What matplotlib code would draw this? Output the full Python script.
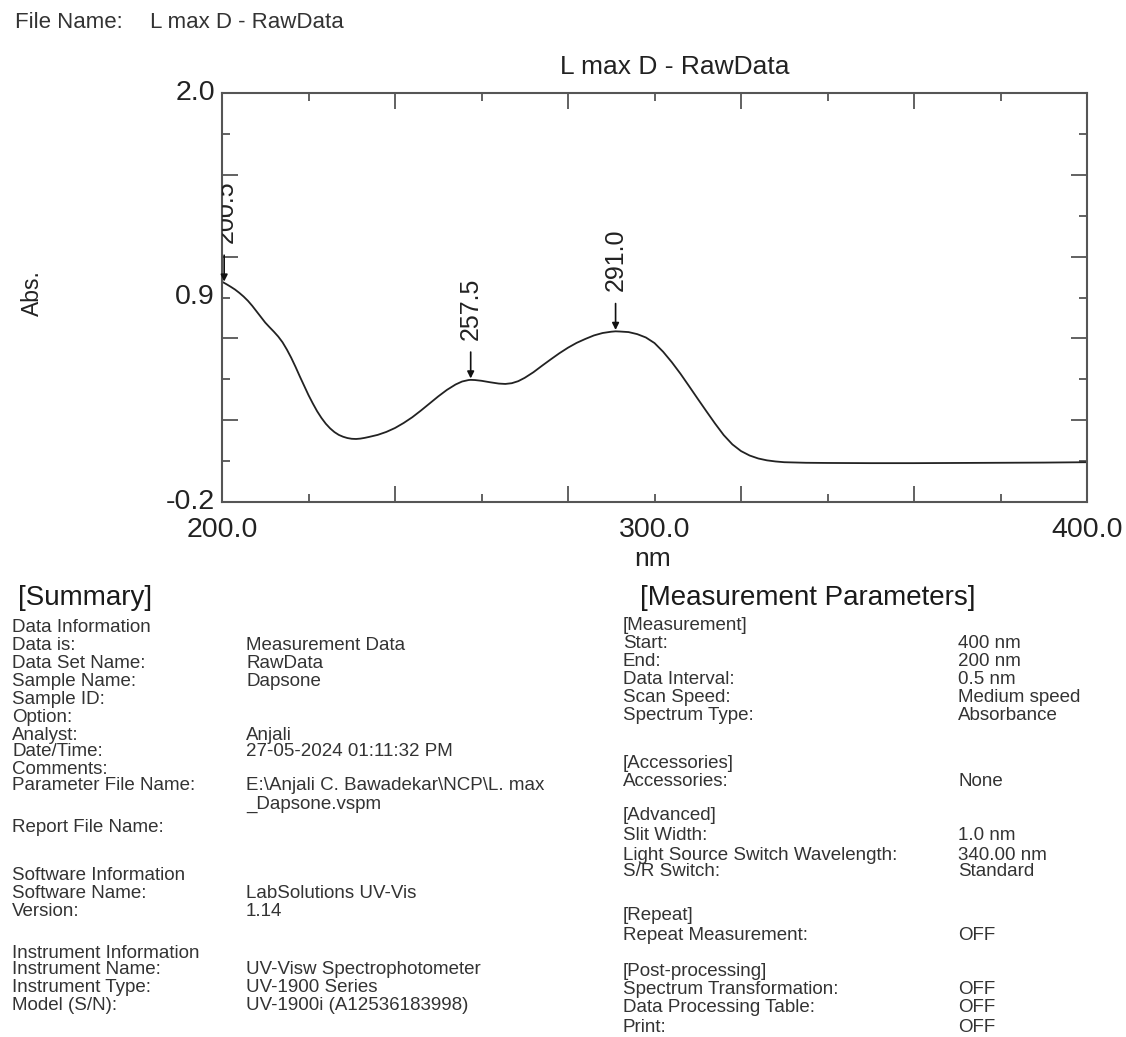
import numpy as np
import matplotlib.pyplot as plt

plt.rcParams['font.family'] = ['Liberation Sans', 'DejaVu Sans']

# spectrum, wavelength in nm and absorbance
wavelength = [200.0, 201.0, 202.0, 203.0, 204.0, 205.0, 206.0, 207.0, 208.0, 209.0,
              210.0, 211.0, 212.0, 213.0, 214.0, 215.0, 216.0, 217.0, 218.0, 219.0,
              220.0, 221.0, 222.0, 223.0, 224.0, 225.0, 226.0, 227.0, 228.0, 229.0,
              230.0, 231.0, 232.0, 233.0, 234.0, 236.0, 238.0, 240.0, 242.0, 244.0,
              246.0, 248.0, 250.0, 252.0, 254.0, 255.5, 257.0, 257.5, 258.5, 260.0,
              262.0, 264.0, 265.5, 267.0, 268.5, 270.0, 272.0, 274.0, 276.0, 278.0,
              280.0, 282.0, 284.0, 286.0, 288.0, 290.0, 291.0, 292.0, 294.0, 296.0,
              298.0, 300.0, 302.0, 304.0, 306.0, 308.0, 310.0, 312.0, 314.0, 316.0,
              318.0, 320.0, 322.0, 324.0, 326.0, 328.0, 330.0, 335.0, 340.0, 350.0,
              360.0, 370.0, 380.0, 390.0, 400.0]
absorbance = [0.985, 0.972, 0.958, 0.943, 0.925, 0.905, 0.882, 0.855, 0.825, 0.795,
              0.765, 0.740, 0.716, 0.690, 0.659, 0.620, 0.576, 0.527, 0.475, 0.425,
              0.375, 0.330, 0.288, 0.252, 0.221, 0.196, 0.176, 0.161, 0.151, 0.144,
              0.140, 0.139, 0.141, 0.145, 0.150, 0.161, 0.177, 0.198, 0.225, 0.256,
              0.292, 0.330, 0.368, 0.403, 0.432, 0.448, 0.456, 0.457, 0.456, 0.452,
              0.444, 0.437, 0.435, 0.439, 0.450, 0.468, 0.498, 0.533, 0.567, 0.600,
              0.630, 0.656, 0.677, 0.696, 0.709, 0.716, 0.718, 0.717, 0.714, 0.703,
              0.685, 0.655, 0.608, 0.552, 0.490, 0.423, 0.355, 0.288, 0.222, 0.160,
              0.110, 0.074, 0.050, 0.034, 0.024, 0.018, 0.014, 0.011, 0.010, 0.009,
              0.009, 0.010, 0.011, 0.012, 0.014]

# picked peaks
peak_nm = [200.5, 257.5, 291.0]
peak_abs = [0.978, 0.457, 0.718]

file_name = 'L max D - RawData'

summary_labels = ['Data Information', 'Data is:', 'Data Set Name:', 'Sample Name:',
                  'Sample ID:', 'Option:', 'Analyst:', 'Date/Time:', 'Comments:',
                  'Parameter File Name:', '', 'Report File Name:',
                  'Software Information', 'Software Name:', 'Version:',
                  'Instrument Information', 'Instrument Name:', 'Instrument Type:',
                  'Model (S/N):']
summary_values = ['', 'Measurement Data', 'RawData', 'Dapsone',
                  '', '', 'Anjali', '27-05-2024 01:11:32 PM', '',
                  'E:\\Anjali C. Bawadekar\\NCP\\L. max', '_Dapsone.vspm', '',
                  '', 'LabSolutions UV-Vis', '1.14',
                  '', 'UV-Visw Spectrophotometer', 'UV-1900 Series',
                  'UV-1900i (A12536183998)']
summary_rows = [627, 646, 664, 682, 700, 717, 735, 752, 770, 786, 804, 828,
                876, 893, 911, 953, 970, 987, 1005]

param_labels = ['[Measurement]', 'Start:', 'End:', 'Data Interval:', 'Scan Speed:',
                'Spectrum Type:', '[Accessories]', 'Accessories:', '[Advanced]',
                'Slit Width:', 'Light Source Switch Wavelength:', 'S/R Switch:',
                '[Repeat]', 'Repeat Measurement:', '[Post-processing]',
                'Spectrum Transformation:', 'Data Processing Table:', 'Print:']
param_values = ['', '400 nm', '200 nm', '0.5 nm', 'Medium speed',
                'Absorbance', '', 'None', '',
                '1.0 nm', '340.00 nm', 'Standard',
                '', 'OFF', '',
                'OFF', 'OFF', 'OFF']
param_rows = [626, 644, 662, 680, 698, 716, 763, 781, 816, 836, 855, 872,
              915, 935, 972, 990, 1008, 1027]

W, H = 1126, 1037
fig = plt.figure(figsize=(W / 100, H / 100), dpi=100)


def fx(x):
    return x / W


def fy(y):
    return 1 - y / H


ax = fig.add_axes([fx(222), fy(502), (1087 - 222) / W, (502 - 93) / H])

ax.plot(wavelength, absorbance, color='#222222', lw=1.3)
ax.set_xlim(200, 400)
ax.set_ylim(-0.2, 2.0)

# ticks: long/short alternating, labels only at ends and middle
xt = np.linspace(200, 400, 11)
yt = np.linspace(-0.2, 2.0, 11)
ax.set_xticks(xt[::2])
ax.set_xticks(xt[1::2], minor=True)
ax.set_yticks(yt[::2])
ax.set_yticks(yt[1::2], minor=True)
ax.tick_params(which='both', direction='in', top=True, right=True,
               labelbottom=False, labelleft=False, color='#555555', width=1.3)
ax.tick_params(which='major', length=11.5)
ax.tick_params(which='minor', length=6)
for s in ax.spines.values():
    s.set_color('#555555')
    s.set_linewidth(1.5)

for v in [200.0, 300.0, 400.0]:
    ax.text(v, -0.068, '%.1f' % v, transform=ax.get_xaxis_transform(),
            ha='center', va='center', fontsize=20.5, color='#222222')
for v in [2.0, 0.9, -0.2]:
    ax.text(-0.008, (v + 0.2) / 2.2, '%.1f' % v, transform=ax.transAxes,
            ha='right', va='center', fontsize=20.5, color='#222222')

# peak markers (the first one sits on the frame and gets cut by it)
for x, y in zip(peak_nm, peak_abs):
    ax.annotate('', xy=(x, y), xytext=(0, 20), textcoords='offset points',
                arrowprops=dict(arrowstyle='-|>', color='#111111', lw=1.2,
                                mutation_scale=10, shrinkA=0, shrinkB=1))
    dx = 1.5 if x == peak_nm[0] else 0
    t = ax.annotate('%.1f' % x, xy=(x, y), xytext=(dx, 29),
                    textcoords='offset points', rotation=90,
                    ha='center', va='bottom', fontsize=18, color='#222222')
    t.set_clip_on(True)
    t.set_clip_path(ax.patch)

fig.text(fx(675), fy(67), file_name, ha='center', va='center',
         fontsize=19, color='#222222')
fig.text(fx(32), fy(293), 'Abs.', rotation=90, ha='center', va='center',
         fontsize=16.5, color='#222222')
fig.text(fx(653), fy(559), 'nm', ha='center', va='center',
         fontsize=19, color='#222222')

fig.text(fx(15), fy(22), 'File Name:', ha='left', va='center',
         fontsize=16, color='#333333')
fig.text(fx(150), fy(22), file_name, ha='left', va='center',
         fontsize=16, color='#333333')

# report blocks
fig.text(fx(18), fy(598), '[Summary]', ha='left', va='center',
         fontsize=20, color='#1a1a1a')
for lab, val, y in zip(summary_labels, summary_values, summary_rows):
    fig.text(fx(12), fy(y), lab, ha='left', va='center', fontsize=13.5, color='#333333')
    fig.text(fx(246), fy(y), val, ha='left', va='center', fontsize=13.5, color='#333333')

fig.text(fx(640), fy(598), '[Measurement Parameters]', ha='left', va='center',
         fontsize=20, color='#1a1a1a')
for lab, val, y in zip(param_labels, param_values, param_rows):
    fig.text(fx(623), fy(y), lab, ha='left', va='center', fontsize=13.5, color='#333333')
    fig.text(fx(958), fy(y), val, ha='left', va='center', fontsize=13.5, color='#333333')

fig.savefig('out.png', dpi=100)
